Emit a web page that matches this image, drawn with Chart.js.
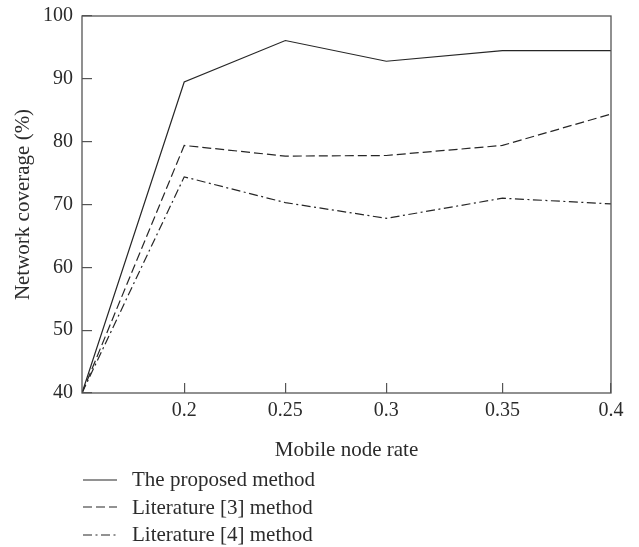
<!DOCTYPE html>
<html>
<head>
<meta charset="utf-8">
<title>Network coverage vs mobile node rate</title>
<script src="https://cdn.jsdelivr.net/npm/chart.js@4.4.1/dist/chart.umd.min.js"></script>
<style>
  html, body { margin: 0; padding: 0; background: #fff; }
  #wrap { position: relative; width: 639px; height: 547px; }
  #legend {
    position: absolute; left: 83px; top: 466px;
    font-family: 'Liberation Serif', 'DejaVu Serif', serif;
    font-size: 21px; color: #2b2b2b;
  }
  .row { display: flex; align-items: center; height: 27.5px; white-space: nowrap; }
  .row svg { width: 34px; height: 10px; margin-right: 15px; flex: none; }
</style>
</head>
<body>
<div id="wrap">
  <canvas id="coverageChart" width="639" height="547"></canvas>
  <div id="legend"></div>
</div>
<script>
// values
const xTickLabels = ['0.2', '0.25', '0.3', '0.35', '0.4'];
// where each rate sits along the drawn axis (the original axis is not evenly spaced)
const xPositions = [0.15, 0.1983, 0.2461, 0.2938, 0.3487, 0.4];
const proposed = [40, 89.5, 96.1, 92.8, 94.5, 94.5];
const literature3 = [40, 79.4, 77.7, 77.8, 79.4, 84.4];
const literature4 = [40, 74.4, 70.3, 67.8, 71.0, 70.1];
const seriesNames = ['The proposed method', 'Literature [3] method', 'Literature [4] method'];

const lineColor = '#262626';
const axisColor = '#555555';
const textColor = '#2b2b2b';
const serif = "'Liberation Serif', 'DejaVu Serif', serif";

function toPoints(values) {
  return values.map((v, i) => ({ x: xPositions[i], y: v }));
}

const datasets = [
  { label: seriesNames[0], data: toPoints(proposed), borderDash: [] },
  { label: seriesNames[1], data: toPoints(literature3), borderDash: [9, 4] },
  { label: seriesNames[2], data: toPoints(literature4), borderDash: [9, 3.5, 2, 3.5] }
].map(ds => Object.assign(ds, {
  borderColor: lineColor,
  borderWidth: 1.2,
  pointRadius: 0,
  tension: 0,
  fill: false
}));

// box around the plot area
const framePlugin = {
  id: 'frame',
  afterDatasetsDraw(chart) {
    const { ctx, chartArea } = chart;
    ctx.save();
    ctx.strokeStyle = axisColor;
    ctx.lineWidth = 1.3;
    ctx.strokeRect(chartArea.left, chartArea.top,
      chartArea.right - chartArea.left, chartArea.bottom - chartArea.top);
    ctx.restore();
  }
};

const ctx = document.getElementById('coverageChart').getContext('2d');
const chart = new Chart(ctx, {
  type: 'line',
  data: { datasets: datasets },
  plugins: [framePlugin],
  options: {
    responsive: false,
    animation: false,
    layout: { padding: { left: 0, top: 16, right: 28, bottom: 80 } },
    plugins: {
      legend: { display: false },
      tooltip: { enabled: false }
    },
    scales: {
      x: {
        type: 'linear',
        min: 0.15,
        max: 0.4,
        afterBuildTicks: scale => {
          scale.ticks = xPositions.slice(1).map(v => ({ value: v }));
        },
        afterFit: scale => {
          scale.height = 74;
          scale.paddingLeft = 0;
          scale.paddingRight = 0;
        },
        border: { display: false },
        grid: {
          drawOnChartArea: false,
          drawTicks: true,
          tickLength: -10,
          color: axisColor,
          lineWidth: 1.2
        },
        ticks: {
          autoSkip: false,
          maxRotation: 0,
          padding: 16,
          color: textColor,
          font: { family: serif, size: 20 },
          callback: (value, index) => xTickLabels[index]
        },
        title: {
          display: true,
          text: 'Mobile node rate',
          color: textColor,
          font: { family: serif, size: 21 },
          padding: { top: 4, bottom: 4 }
        }
      },
      y: {
        min: 40,
        max: 100,
        afterFit: scale => {
          scale.width = 82;
          scale.paddingTop = 0;
          scale.paddingBottom = 0;
        },
        border: { display: false },
        grid: {
          drawOnChartArea: false,
          drawTicks: true,
          tickLength: -10,
          color: axisColor,
          lineWidth: 1.2
        },
        ticks: {
          stepSize: 10,
          padding: 19,
          color: textColor,
          font: { family: serif, size: 20 }
        },
        title: {
          display: true,
          text: 'Network coverage (%)',
          color: textColor,
          font: { family: serif, size: 21 },
          padding: { top: 11, bottom: 0 }
        }
      }
    }
  }
});

// legend rows under the chart, line samples follow each dataset's dash
const legendBox = document.getElementById('legend');
datasets.forEach(ds => {
  const row = document.createElement('div');
  row.className = 'row';
  const dash = ds.borderDash.length ? ds.borderDash.join(' ') : 'none';
  row.innerHTML =
    `<svg viewBox="0 0 34 10"><line x1="0" y1="5" x2="34" y2="5" stroke="${lineColor}" ` +
    `stroke-width="1.2" stroke-dasharray="${dash}"/></svg>`;
  const label = document.createElement('span');
  label.textContent = ds.label;
  row.appendChild(label);
  legendBox.appendChild(row);
});
</script>
</body>
</html>
